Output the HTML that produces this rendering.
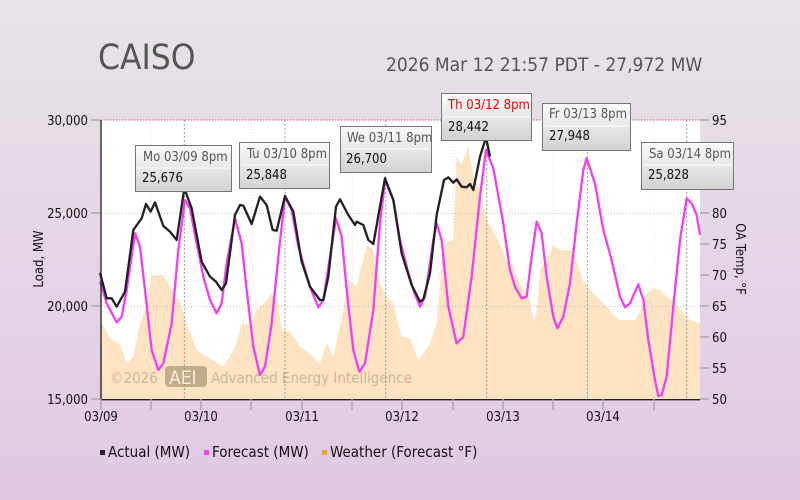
<!DOCTYPE html>
<html><head><meta charset="utf-8"><style>
html,body{margin:0;padding:0}
body{width:800px;height:500px;overflow:hidden;background:linear-gradient(#e6e3e7,#e3c8e4);font-family:"DejaVu Sans Condensed","DejaVu Sans","Liberation Sans",sans-serif}
</style></head><body>
<svg width="800" height="500" viewBox="0 0 800 500" xmlns="http://www.w3.org/2000/svg" style="position:absolute;left:0;top:0;font-family:'DejaVu Sans Condensed','DejaVu Sans',sans-serif">
<defs><linearGradient id="tb" x1="0" y1="0" x2="0" y2="1"><stop offset="0" stop-color="#fbfbfb"/><stop offset="1" stop-color="#d2d2d2"/></linearGradient></defs>
<text x="98" y="69" font-size="35" fill="#555">CAISO</text>
<text x="386" y="71" font-size="19" fill="#555">2026 Mar 12 21:57 PDT - 27,972 MW</text>
<rect x="101" y="120" width="599" height="279" fill="#fff"/>
<g transform="translate(90,90) scale(0.33333)">
<polygon fill="#fee3c2" points="33,927 30,690 60,745 90,765 110,820 130,800 150,700 165,660 185,555 220,555 245,600 270,635 290,700 320,780 350,800 400,830 420,800 440,760 455,700 480,705 500,660 520,640 545,610 560,620 575,720 600,725 630,770 660,790 690,820 710,760 730,800 760,660 775,570 800,590 830,465 850,480 870,580 890,620 910,640 935,740 960,745 985,810 1000,790 1020,760 1040,700 1060,465 1075,455 1090,450 1100,200 1115,225 1135,170 1150,260 1170,300 1190,390 1230,460 1260,540 1265,520 1290,580 1320,630 1330,690 1340,670 1350,540 1370,510 1390,465 1410,480 1450,480 1480,575 1510,610 1550,650 1585,690 1620,690 1635,690 1650,665 1670,610 1690,595 1710,600 1730,620 1760,645 1780,670 1800,690 1830,700 1830,927"/>
<g stroke="#bbb" stroke-width="3" stroke-dasharray="3,6"><line x1="33" y1="370" x2="1830" y2="370"/><line x1="33" y1="650" x2="1830" y2="650"/></g>
<g stroke="#999" stroke-width="3" stroke-dasharray="6,6"><line x1="283" y1="90" x2="283" y2="927"/><line x1="585" y1="90" x2="585" y2="927"/><line x1="887" y1="90" x2="887" y2="927"/><line x1="1190" y1="90" x2="1190" y2="927"/><line x1="1492" y1="90" x2="1492" y2="927"/><line x1="1790" y1="90" x2="1790" y2="927"/></g>
<g stroke="#ddd" stroke-width="3" stroke-dasharray="3,6"><line x1="183" y1="90" x2="183" y2="927"/><line x1="485" y1="90" x2="485" y2="927"/><line x1="787" y1="90" x2="787" y2="927"/><line x1="1090" y1="90" x2="1090" y2="927"/><line x1="1390" y1="90" x2="1390" y2="927"/><line x1="1692" y1="90" x2="1692" y2="927"/></g>
<polyline fill="none" stroke="#f040f0" stroke-width="7" stroke-linejoin="round" points="30,575 50,640 80,697 95,680 110,600 135,430 150,470 165,600 185,780 205,840 220,820 245,700 265,480 285,330 300,355 320,460 340,560 360,630 380,670 395,640 410,520 435,385 455,460 470,600 490,770 510,855 525,830 545,700 565,500 585,320 605,360 625,470 660,590 685,652 700,630 720,500 738,385 755,440 770,600 790,780 808,845 825,820 850,660 870,400 885,270 910,330 930,450 950,530 970,600 990,650 1005,620 1030,450 1040,400 1055,450 1075,650 1100,760 1120,740 1145,560 1170,320 1188,180 1210,235 1240,400 1260,540 1275,590 1295,625 1310,620 1325,500 1340,395 1355,430 1370,560 1390,680 1402,715 1420,680 1440,580 1460,400 1480,240 1490,205 1515,280 1540,420 1565,510 1590,620 1605,652 1620,640 1645,583 1660,630 1675,750 1695,870 1705,918 1715,915 1730,860 1750,650 1770,450 1790,325 1805,340 1820,375 1830,435"/>
<polyline fill="none" stroke="#222" stroke-width="7" stroke-linejoin="round" points="30,548 50,625 65,625 80,650 105,605 130,420 155,385 168,342 182,365 195,337 220,408 240,425 260,450 283,295 305,355 335,515 360,560 378,575 395,600 408,580 435,375 450,345 460,347 485,402 510,320 530,345 548,420 560,422 585,318 610,365 635,515 660,590 690,630 700,630 715,560 738,350 750,328 775,375 795,405 800,395 820,405 835,450 850,462 885,265 910,330 935,490 965,585 990,635 1000,628 1020,550 1040,375 1062,270 1075,262 1090,278 1100,268 1115,290 1130,292 1140,282 1150,300 1170,200 1188,142 1200,200"/>
<line x1="33" y1="90" x2="1830" y2="90" stroke="#c05050" stroke-width="3" stroke-dasharray="4,5"/>
<line x1="33" y1="90" x2="33" y2="930" stroke="#222" stroke-width="4"/>
<line x1="30" y1="929" x2="1830" y2="929" stroke="#222" stroke-width="4"/>
</g>
<g opacity="0.5">
<text x="110" y="383" font-size="15" fill="#998877">©2026</text>
<rect x="165" y="366" width="42" height="21" rx="4" fill="#8a7656"/>
<text x="169" y="384" font-size="19" fill="#fff">AEI</text>
<text x="211" y="383" font-size="15" fill="#998877">Advanced Energy Intelligence</text>
</g>
<g stroke="#aaa" stroke-width="1.5">
<line x1="91" y1="120" x2="100" y2="120"/><line x1="91" y1="213" x2="100" y2="213"/><line x1="91" y1="306" x2="100" y2="306"/><line x1="91" y1="399" x2="100" y2="399"/>
<line x1="700" y1="120" x2="709" y2="120"/><line x1="700" y1="151" x2="709" y2="151"/><line x1="700" y1="182" x2="709" y2="182"/><line x1="700" y1="213" x2="709" y2="213"/><line x1="700" y1="244" x2="709" y2="244"/><line x1="700" y1="275" x2="709" y2="275"/><line x1="700" y1="306" x2="709" y2="306"/><line x1="700" y1="337" x2="709" y2="337"/><line x1="700" y1="368" x2="709" y2="368"/><line x1="700" y1="399" x2="709" y2="399"/>
<line x1="101" y1="399" x2="101" y2="410"/><line x1="151" y1="399" x2="151" y2="410"/><line x1="201" y1="399" x2="201" y2="410"/><line x1="251" y1="399" x2="251" y2="410"/><line x1="302" y1="399" x2="302" y2="410"/><line x1="352" y1="399" x2="352" y2="410"/><line x1="402" y1="399" x2="402" y2="410"/><line x1="453" y1="399" x2="453" y2="410"/><line x1="503" y1="399" x2="503" y2="410"/><line x1="553" y1="399" x2="553" y2="410"/><line x1="603" y1="399" x2="603" y2="410"/><line x1="654" y1="399" x2="654" y2="410"/>
</g>
<g font-size="13" fill="#111" text-anchor="end">
<text x="88" y="125">30,000</text><text x="88" y="218">25,000</text><text x="88" y="311">20,000</text><text x="88" y="404">15,000</text>
</g>
<g font-size="13" fill="#111">
<text x="712" y="125">95</text><text x="712" y="187">85</text><text x="712" y="218">80</text><text x="712" y="249">75</text><text x="712" y="280">70</text><text x="712" y="311">65</text><text x="712" y="342">60</text><text x="712" y="373">55</text><text x="712" y="404">50</text>
</g>
<g font-size="13" fill="#111" text-anchor="middle">
<text x="101" y="421">03/09</text><text x="201" y="421">03/10</text><text x="302" y="421">03/11</text><text x="402" y="421">03/12</text><text x="503" y="421">03/13</text><text x="603" y="421">03/14</text>
</g>
<text transform="translate(43,259) rotate(-90)" font-size="13" fill="#111" text-anchor="middle">Load, MW</text>
<text transform="translate(736,259) rotate(90)" font-size="13" fill="#111" text-anchor="middle">OA Temp, °F</text>
<g font-size="15" fill="#111">
<rect x="100" y="450" width="5" height="5" fill="#222"/><text x="108" y="457">Actual (MW)</text>
<rect x="204" y="450" width="5" height="5" fill="#f040f0"/><text x="212" y="457">Forecast (MW)</text>
<rect x="322" y="450" width="5" height="5" fill="#f5a623"/><text x="330" y="457">Weather (Forecast °F)</text>
</g>
<g font-size="13">
<g><rect x="135.5" y="145.5" width="96" height="46" fill="url(#tb)" stroke="#777"/><line x1="138" y1="168" x2="229" y2="168" stroke="#fff"/><text x="143" y="161" fill="#555">Mo 03/09 8pm</text><text x="142" y="182" fill="#111">25,676</text></g>
<g><rect x="239.5" y="142.5" width="90" height="46" fill="url(#tb)" stroke="#777"/><line x1="242" y1="165" x2="327" y2="165" stroke="#fff"/><text x="247" y="158" fill="#555">Tu 03/10 8pm</text><text x="246" y="179" fill="#111">25,848</text></g>
<g><rect x="340.5" y="126.5" width="91" height="46" fill="url(#tb)" stroke="#777"/><line x1="343" y1="149" x2="429" y2="149" stroke="#fff"/><text x="347" y="142" fill="#555">We 03/11 8pm</text><text x="346" y="163" fill="#111">26,700</text></g>
<g><rect x="441.5" y="93.5" width="90" height="47" fill="url(#tb)" stroke="#777"/><line x1="444" y1="117" x2="529" y2="117" stroke="#fff"/><text x="448" y="109" fill="#e00">Th 03/12 8pm</text><text x="448" y="131" fill="#111">28,442</text></g>
<g><rect x="542.5" y="103.5" width="88" height="47" fill="url(#tb)" stroke="#777"/><line x1="545" y1="126" x2="628" y2="126" stroke="#fff"/><text x="549" y="118" fill="#555">Fr 03/13 8pm</text><text x="549" y="140" fill="#111">27,948</text></g>
<g><rect x="641.5" y="142.5" width="92" height="47" fill="url(#tb)" stroke="#777"/><line x1="644" y1="165" x2="731" y2="165" stroke="#fff"/><text x="649" y="158" fill="#555">Sa 03/14 8pm</text><text x="648" y="179" fill="#111">25,828</text></g>
</g>
</svg>
</body></html>
